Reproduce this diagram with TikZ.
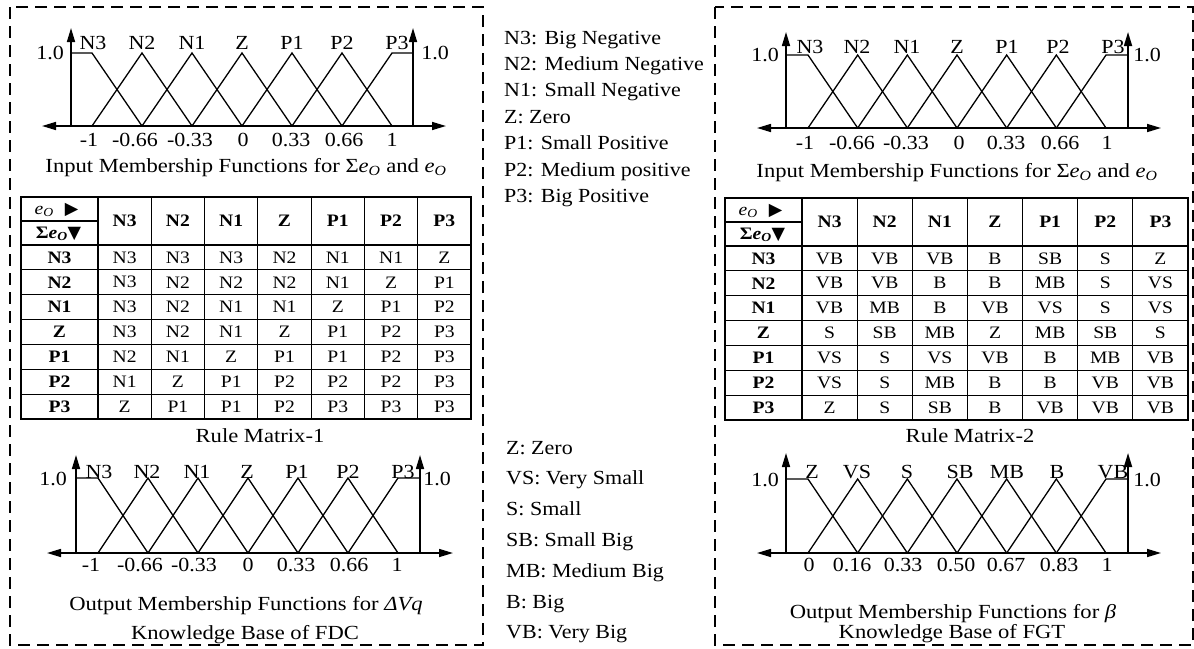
\documentclass[tikz,border=0pt]{standalone}
\usepackage{fontspec}
\setmainfont{Liberation Serif}
\newfontfamily\plotfont[FakeStretch=1.1]{Liberation Serif}
\newfontfamily\capfont[FakeStretch=1.13]{Liberation Serif}
\newfontfamily\legfont[FakeStretch=1.1]{Liberation Serif}
\newfontfamily\tabfont[FakeStretch=1.12]{Liberation Serif}
\newfontfamily\symfont{DejaVu Sans}
\usetikzlibrary{arrows.meta}

\tikzset{
  frame/.style={draw, line width=1.3pt, dash pattern=on 12pt off 7pt},
  axisline/.style={line width=1.6pt},
  mfline/.style={line width=1.3pt},
  uptip/.style={-{Triangle[length=14pt,width=8pt]}},
  bothtips/.style={{Triangle[length=14pt,width=8pt]}-{Triangle[length=14pt,width=8pt]}},
  lbl/.style={font=\plotfont\fontsize{20}{22}\selectfont, inner sep=0pt},
  captext/.style={font=\capfont\fontsize{20}{22}\selectfont, inner sep=0pt, anchor=base},
  leg/.style={font=\legfont\fontsize{20}{22}\selectfont, inner sep=0pt, anchor=base west},
  cell/.style={font=\tabfont\fontsize{17.5}{18}\selectfont, inner sep=0pt},
  hcell/.style={font=\tabfont\bfseries\fontsize{17.5}{18}\selectfont, inner sep=0pt},
  gridline/.style={line width=1.2pt},
}

% Membership-function plot: #1 name prefix, #2 left axis x, #3 x of first
% shoulder corner, #4 spacing of peaks, #5 baseline y, #6 level 1.0, #7 arrow tip y
\newcommand\MFplot[7]{%
  \pgfmathsetmacro\mfA{#2}%
  \pgfmathsetmacro\mfO{#3}%
  \pgfmathsetmacro\mfS{#4}%
  \pgfmathsetmacro\mfE{#3+6*#4}%
  \pgfmathsetmacro\mfB{\mfE+(#3-#2)}%
  \coordinate (#1-o) at (\mfA,#5);
  \coordinate (#1-top) at (\mfA,#7);
  \coordinate (#1-r) at (\mfB,#5);
  \coordinate (#1-rtop) at (\mfB,#7);
  \coordinate (#1-w) at (\mfA-29,#5);
  \coordinate (#1-e) at (\mfB+33,#5);
  \draw[axisline, bothtips] (#1-w) -- (#1-e);
  \draw[axisline, uptip] (#1-o) -- (#1-top);
  \draw[axisline, uptip] (#1-r) -- (#1-rtop);
  \draw[mfline] (\mfA,#6) -- (\mfO,#6) -- (\mfO+\mfS,#5);
  \foreach \k in {1,...,5}
    \draw[mfline] ({\mfO+(\k-1)*\mfS},#5) -- ({\mfO+\k*\mfS},#6) -- ({\mfO+(\k+1)*\mfS},#5);
  \draw[mfline] (\mfE-\mfS,#5) -- (\mfE,#6) -- (\mfB,#6);
}

% Rule matrix: #1 prefix, #2 left x, #3 first column right x, #4 right x,
% #5 top y, #6 header split y, #7 header bottom y, #8 bottom y, #9 rows
\newcommand\RuleTable[9]{%
  \pgfmathsetmacro\tbW{(#4-#3)/7}%
  \pgfmathsetmacro\tbH{(#8-#7)/7}%
  \draw[gridline] (#2,#5) rectangle (#4,#8);
  \draw[gridline] (#2,#7) -- (#4,#7);
  \draw[gridline] (#2,#6) -- (#3,#6);
  \foreach \k in {0,...,6}
    \draw[gridline] ({#3+\k*\tbW},#5) -- ({#3+\k*\tbW},#8);
  \foreach \k in {1,...,6}
    \draw[gridline] (#2,{#7+\k*\tbH}) -- (#4,{#7+\k*\tbH});
  \node[cell] (#1-eo) at ({(#2+#3)/2-3},{(#5+#6)/2+1})
    {\textit{e}\textsubscript{\textit{O}}\hspace{11pt}{\symfont ▶}};
  \node[hcell] (#1-seo) at ({(#2+#3)/2-1},{(#6+#7)/2+1})
    {Σ\textit{e}\textsubscript{\textit{O}}{\symfont ▼}};
  \foreach \h [count=\j] in {N3,N2,N1,Z,P1,P2,P3} {
    \node[hcell] (#1-c\j) at ({#3+(\j-0.5)*\tbW},{(#5+#7)/2}) {\h};
    \node[hcell] (#1-r\j) at ({(#2+#3)/2},{#7+(\j-0.5)*\tbH}) {\h};
  }
  \foreach \row [count=\i] in {#9} {
    \foreach \v [count=\j] in \row {
      \node[cell] (#1-\i-\j) at ({#3+(\j-0.5)*\tbW},{#7+(\i-0.5)*\tbH}) {\v};
    }
  }
}

\begin{document}
\begin{tikzpicture}[x=1pt,y=-1pt]
\useasboundingbox (0,0) rectangle (1194,648);

% dashed frames of the two knowledge bases
\draw[frame] (10,7) rectangle (483,645);
\draw[frame] (715,7) rectangle (1193,645);

%% ---------------- FDC (left) ----------------
\MFplot{inl}{71}{92}{50}{126}{53}{28}
\foreach \t/\x in {N3/93,N2/142,N1/192,Z/242,P1/292,P2/342,P3/397}
  \node[lbl] (inl-lab-\t) at (\x,43) {\t};
\node[lbl] (inl-one-l) at (50,53) {1.0};
\node[lbl] (inl-one-r) at (435,53) {1.0};
\foreach \t/\x [count=\n] in {-1/89,-0.66/135,-0.33/190,0/243,0.33/291,0.66/344,1/392}
  \node[lbl] (inl-tick-\n) at (\x,140) {\t};
\node[captext] (inl-cap) at (246,172)
  {Input Membership Functions for Σ\textit{e}\textsubscript{\textit{O}} and \textit{e}\textsubscript{\textit{O}}};

\RuleTable{rm1}{21}{98}{471}{197}{221}{245}{419}{%
  {N3,N3,N3,N2,N1,N1,Z},
  {N3,N2,N2,N2,N1,Z,P1},
  {N3,N2,N1,N1,Z,P1,P2},
  {N3,N2,N1,Z,P1,P2,P3},
  {N2,N1,Z,P1,P1,P2,P3},
  {N1,Z,P1,P2,P2,P2,P3},
  {Z,P1,P1,P2,P3,P3,P3}}
\node[captext] (rm1-cap) at (260,442) {Rule Matrix-1};

\MFplot{outl}{76}{98}{50}{553}{478}{455}
\foreach \t/\x in {N3/99,N2/147,N1/197,Z/247,P1/297,P2/348,P3/403}
  \node[lbl] (outl-lab-\t) at (\x,472) {\t};
\node[lbl] (outl-one-l) at (53,479) {1.0};
\node[lbl] (outl-one-r) at (437,479) {1.0};
\foreach \t/\x [count=\n] in {-1/91,-0.66/140,-0.33/194,0/248,0.33/296,0.66/349,1/397}
  \node[lbl] (outl-tick-\n) at (\x,565) {\t};
\node[captext] (outl-cap) at (246,610) {Output Membership Functions for \textit{ΔVq}};
\node[captext] (fdc-title) at (245,639) {Knowledge Base of FDC};

%% ---------------- legends ----------------
\foreach \t [count=\n] in {N3: Big Negative,N2: Medium Negative,N1: Small Negative,Z: Zero,
    P1: Small Positive,P2: Medium positive,P3: Big Positive}
  \node[leg] (legin-\n) at (504,{44+(\n-1)*26.4}) {\t};
\foreach \t [count=\n] in {Z: Zero,VS: Very Small,S: Small,SB: Small Big,
    MB: Medium Big,B: Big,VB: Very Big}
  \node[leg] (legout-\n) at (506,{454+(\n-1)*30.8}) {\t};

%% ---------------- FGT (right) ----------------
\MFplot{inr}{786}{808}{49.67}{128}{55}{32}
\foreach \t/\x in {N3/810,N2/857,N1/907,Z/957,P1/1007,P2/1058,P3/1113}
  \node[lbl] (inr-lab-\t) at (\x,47) {\t};
\node[lbl] (inr-one-l) at (765,55) {1.0};
\node[lbl] (inr-one-r) at (1147,55) {1.0};
\foreach \t/\x [count=\n] in {-1/805,-0.66/852,-0.33/906,0/959,0.33/1006,0.66/1060,1/1107}
  \node[lbl] (inr-tick-\n) at (\x,143) {\t};
\node[captext] (inr-cap) at (957,177)
  {Input Membership Functions for Σ\textit{e}\textsubscript{\textit{O}} and \textit{e}\textsubscript{\textit{O}}};

\RuleTable{rm2}{725}{802}{1188}{198}{222}{246}{420}{%
  {VB,VB,VB,B,SB,S,Z},
  {VB,VB,B,B,MB,S,VS},
  {VB,MB,B,VB,VS,S,VS},
  {S,SB,MB,Z,MB,SB,S},
  {VS,S,VS,VB,B,MB,VB},
  {VS,S,MB,B,B,VB,VB},
  {Z,S,SB,B,VB,VB,VB}}
\node[captext] (rm2-cap) at (970,442) {Rule Matrix-2};

\MFplot{outr}{786}{808}{49.67}{553}{479}{453}
\foreach \t/\x in {Z/812,VS/857,S/907,SB/960,MB/1007,B/1057,VB/1113}
  \node[lbl] (outr-lab-\t) at (\x,472) {\t};
\node[lbl] (outr-one-l) at (765,480) {1.0};
\node[lbl] (outr-one-r) at (1147,480) {1.0};
\foreach \t/\x [count=\n] in {0/809,0.16/852,0.33/903,0.50/956,0.67/1006,0.83/1059,1/1107}
  \node[lbl] (outr-tick-\n) at (\x,565) {\t};
\node[captext] (outr-cap) at (953,618) {Output Membership Functions for \textit{β}};
\node[captext] (fgt-title) at (952,638) {Knowledge Base of FGT};
\end{tikzpicture}
\end{document}
